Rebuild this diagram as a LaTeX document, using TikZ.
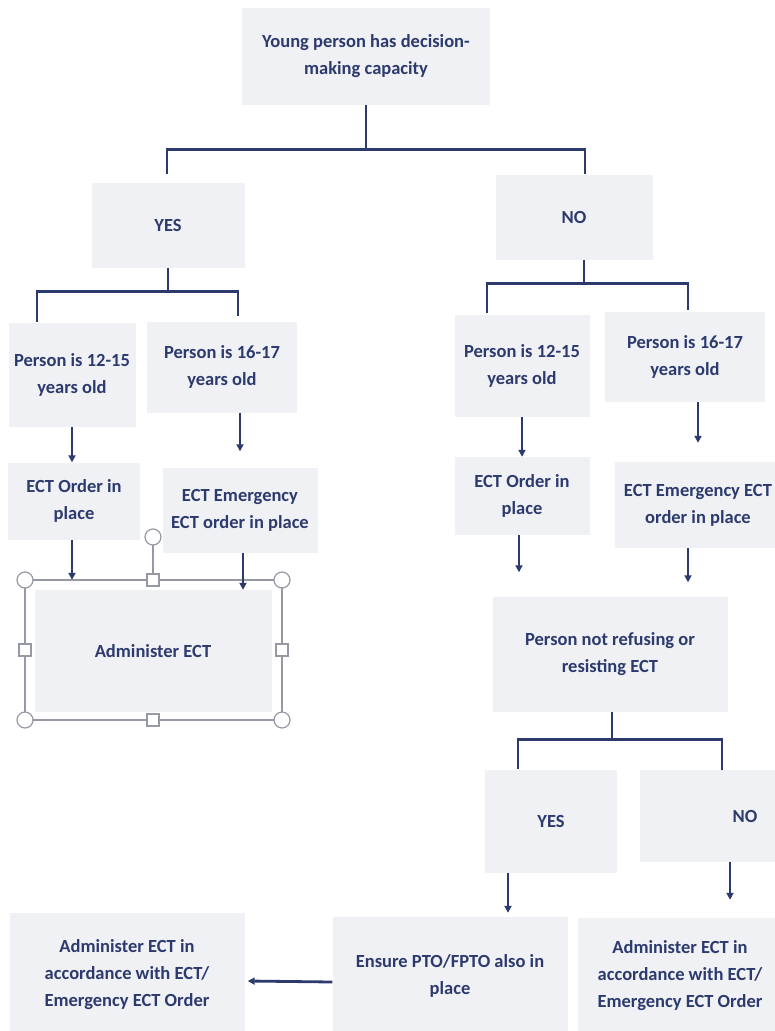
\documentclass[tikz,border=0pt]{standalone}
\usepackage{fontspec}
\setmainfont{Carlito}
\usetikzlibrary{arrows.meta}
\definecolor{boxgray}{RGB}{240,241,245}
\definecolor{inkblue}{RGB}{44,58,110}
\definecolor{selgray}{RGB}{150,153,163}
\begin{document}
\begin{tikzpicture}[x=1pt,y=-1pt,
    box/.style={fill=boxgray,text=inkblue,align=center,inner sep=0pt,
      font=\bfseries\fontsize{18.5}{27}\selectfont},
    link/.style={draw=inkblue,line width=2.8pt},
    arr/.style={link,-{Triangle[length=7pt,width=7pt]}},
    selframe/.style={draw=selgray,line width=1.2pt},
    hcirc/.style={circle,draw=selgray,fill=white,line width=1.2pt,minimum size=16pt,inner sep=0pt},
    hsq/.style={rectangle,draw=selgray,fill=white,line width=1.2pt,minimum size=12pt,inner sep=0pt}]
    \useasboundingbox[fill=white] (0,0) rectangle (775,1031);
    %% Root question
    \node[box,minimum width=248pt,minimum height=97pt] (root) at (366,56) {Young person has decision-\\making capacity};
    %% First answers
    \node[box,minimum width=153pt,minimum height=85pt] (yes) at (168,225) {YES};
    \node[box,minimum width=157pt,minimum height=85pt] (no) at (574,217) {NO};
    %% Ages
    \node[box,minimum width=127pt,minimum height=104pt] (yage1) at (72,375) {Person is 12-15\\years old};
    \node[box,minimum width=150pt,minimum height=91pt] (yage2) at (222,367) {Person is 16-17\\years old};
    \node[box,minimum width=135pt,minimum height=102pt] (nage1) at (522,366) {Person is 12-15\\years old};
    \node[box,minimum width=160pt,minimum height=90pt] (nage2) at (685,357) {Person is 16-17\\years old};
    %% Orders
    \node[box,minimum width=132pt,minimum height=77pt] (yord1) at (74,501) {ECT Order in\\place};
    \node[box,minimum width=155pt,minimum height=85pt] (yord2) at (240,510) {ECT Emergency\\ECT order in place};
    \node[box,minimum width=135pt,minimum height=78pt] (nord1) at (522,496) {ECT Order in\\place};
    \node[box,minimum width=166pt,minimum height=86pt] (nord2) at (698,505) {ECT Emergency ECT\\order in place};
    %% Administer (selected shape)
    \node[box,minimum width=237pt,minimum height=122pt] (admin) at (153,651) {Administer ECT};
    \draw[selframe] (25,580) rectangle (282,720);
    \draw[selframe] (153,580) -- (153,537);
    \foreach \hx/\hy [count=\i] in {25/580,282/580,25/720,282/720,153/537}
        \node[hcirc] (hc\i) at (\hx,\hy) {};
    \foreach \hx/\hy [count=\i] in {153/580,153/720,25/650,282/650}
        \node[hsq] (hs\i) at (\hx,\hy) {};
    %% Refusal check
    \node[box,minimum width=235pt,minimum height=115pt] (refuse) at (610,654) {Person not refusing or\\resisting ECT};
    \node[box,minimum width=132pt,minimum height=103pt] (yes2) at (551,821) {YES};
    \node[box,minimum width=210pt,minimum height=92pt] (no2) at (745,816) {NO};
    %% Outcomes
    \node[box,minimum width=235pt,minimum height=118pt] (ensure) at (450,976) {Ensure PTO/FPTO also in\\place};
    \node[box,minimum width=204pt,minimum height=116pt] (adminr) at (680,976) {Administer ECT in\\accordance with ECT/\\Emergency ECT Order};
    \node[box,minimum width=235pt,minimum height=124pt] (adminl) at (127,975) {Administer ECT in\\accordance with ECT/\\Emergency ECT Order};
    %% Brackets
    \draw[link] (root.south) -- ++(0,45);
    \draw[link] ([xshift=-1pt,yshift=8pt]yes.north) |- ([yshift=-45pt]root.south) -| ([xshift=11pt]no.north);
    \draw[link] (yes.south) -- ++(0,24);
    \draw[link] ([xshift=-35pt,yshift=1pt]yage1.north) |- ([yshift=-24pt]yes.south) -| ([xshift=16pt,yshift=5pt]yage2.north);
    \draw[link] ([xshift=10pt]no.south) -- ++(0,24);
    \draw[link] ([xshift=-35pt,yshift=2pt]nage1.north) |- ([xshift=10pt,yshift=-24pt]no.south) -| ([xshift=3pt,yshift=2pt]nage2.north);
    \draw[link] ([xshift=2pt]refuse.south) -- ++(0,28);
    \draw[link] ([xshift=-33pt]yes2.north) |- ([xshift=2pt,yshift=-28pt]refuse.south) -| ([xshift=-23pt]no2.north);
    %% Arrows
    \draw[arr] (yage1.south) -- (yage1.south |- yord1.north);
    \draw[arr] (yord2.north |- yage2.south) -- ([yshift=16pt]yord2.north);
    \draw[arr] (nage1.south) -- (nage1.south |- nord1.north);
    \draw[arr] (nord2.north |- nage2.south) -- ([yshift=19pt]nord2.north);
    \draw[arr] ([xshift=-2pt]yord1.south) -- ([xshift=-2pt,yshift=10pt]yord1.south |- admin.north);
    \draw[arr] ([xshift=3pt]yord2.south) -- ([xshift=3pt]yord2.south |- admin.north);
    \draw[arr] ([xshift=-3pt]nord1.south) -- ([xshift=-3pt,yshift=24pt]nord1.south |- refuse.north);
    \draw[arr] ([xshift=-10pt]nord2.south) -- ([xshift=-10pt,yshift=14pt]nord2.south |- refuse.north);
    \draw[arr] ([xshift=-43pt]yes2.south) -- ([xshift=-43pt,yshift=4pt]yes2.south |- ensure.north);
    \draw[arr] ([xshift=-15pt]no2.south) -- ([xshift=-15pt,yshift=18pt]no2.south |- adminr.north);
    \draw[arr] ([yshift=-6pt]ensure.west) -- ([yshift=-6pt,xshift=3pt]adminl.east);
\end{tikzpicture}
\end{document}
